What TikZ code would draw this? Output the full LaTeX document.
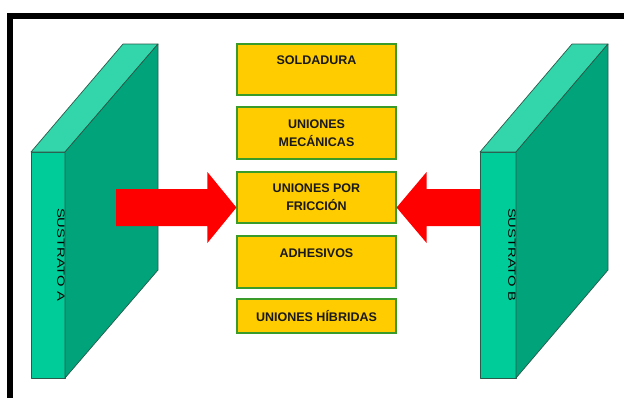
\documentclass[tikz,border=0pt]{standalone}
\usepackage{fontspec}
\setmainfont{Liberation Sans}
\usetikzlibrary{calc}
\definecolor{boxfill}{HTML}{FFCC00}
\definecolor{boxline}{HTML}{3A9A2A}
\definecolor{slabfront}{HTML}{00CC99}
\definecolor{slabtop}{HTML}{33D6AA}
\definecolor{slabside}{HTML}{00A37A}
\definecolor{slabline}{HTML}{2A5A4A}
\definecolor{arrowred}{HTML}{FF0000}
\tikzset{
  joinbox/.style={draw=boxline, line width=1.2pt, fill=boxfill, minimum width=159pt,
    inner sep=0pt, align=center, font=\bfseries\fontsize{12.5}{18}\selectfont, text=black!90},
  slabedge/.style={draw=slabline, line width=0.7pt, line join=round},
  slablabel/.style={rotate=-90, font=\fontsize{10.4}{12}\selectfont, text=black, inner sep=0pt},
  bigarrow/.style={fill=arrowred, draw=none}
}
\begin{document}
\begin{tikzpicture}[x=1pt, y=-1pt]
\useasboundingbox (0,0) rectangle (624,397);
\clip (0,0) rectangle (624,397);
\fill[white] (0,0) rectangle (624,397);
% outer frame (cut at right and bottom)
\draw[line width=6pt] (9.5,15.5) rectangle (640,410);

% substrate A
\filldraw[slabedge, fill=slabfront] (31,152) -- (65,152) -- (65,378) -- (31,378) -- cycle;
\filldraw[slabedge, fill=slabtop] (31,152) -- (123,44) -- (158,44) -- (65,152) -- cycle;
\filldraw[slabedge, fill=slabside] (65,152) -- (158,44) -- (158,270) -- (65,378) -- cycle;
\node[slablabel] (labA) at (61,254.5) {\scalebox{1.42}[1]{SUSTRATO A}};

% substrate B
\filldraw[slabedge, fill=slabfront] (480,152) -- (516,152) -- (516,378) -- (480,378) -- cycle;
\filldraw[slabedge, fill=slabtop] (480,152) -- (572,44) -- (608,44) -- (516,152) -- cycle;
\filldraw[slabedge, fill=slabside] (516,152) -- (608,44) -- (608,270) -- (516,378) -- cycle;
\node[slablabel] (labB) at (512,254.5) {\scalebox{1.42}[1]{SUSTRATO B}};

% boxes
\node[joinbox, minimum height=51pt] (sold) at (316.5,69.5) {SOLDADURA\\\mbox{}};
\node[joinbox, minimum height=52pt] (mec) at (316.5,133) {UNIONES\\MECÁNICAS};
\node[joinbox, minimum height=51pt] (fric) at (316.5,197.5) {UNIONES POR\\FRICCIÓN};
\node[joinbox, minimum height=52pt] (adh) at (316.5,262) {ADHESIVOS\\\mbox{}};
\node[joinbox, minimum height=34pt] (hib) at (316.5,316) {UNIONES HÍBRIDAS};

% arrows
\coordinate (tipA) at ($(fric.west)+(0,10)$);
\coordinate (tailA) at (116,207.5);
\coordinate (tipB) at ($(fric.east)+(0,10)$);
\coordinate (tailB) at (480,207.5);
\fill[bigarrow] ($(tailA)+(0,-18.5)$) -- ($(tipA)+(-29,-18.5)$) -- ($(tipA)+(-29,-35.5)$) -- (tipA)
  -- ($(tipA)+(-29,35.5)$) -- ($(tipA)+(-29,18.5)$) -- ($(tailA)+(0,18.5)$) -- cycle;
\fill[bigarrow] ($(tailB)+(0,-18.5)$) -- ($(tipB)+(30,-18.5)$) -- ($(tipB)+(30,-35.5)$) -- (tipB)
  -- ($(tipB)+(30,35.5)$) -- ($(tipB)+(30,18.5)$) -- ($(tailB)+(0,18.5)$) -- cycle;
\end{tikzpicture}
\end{document}
